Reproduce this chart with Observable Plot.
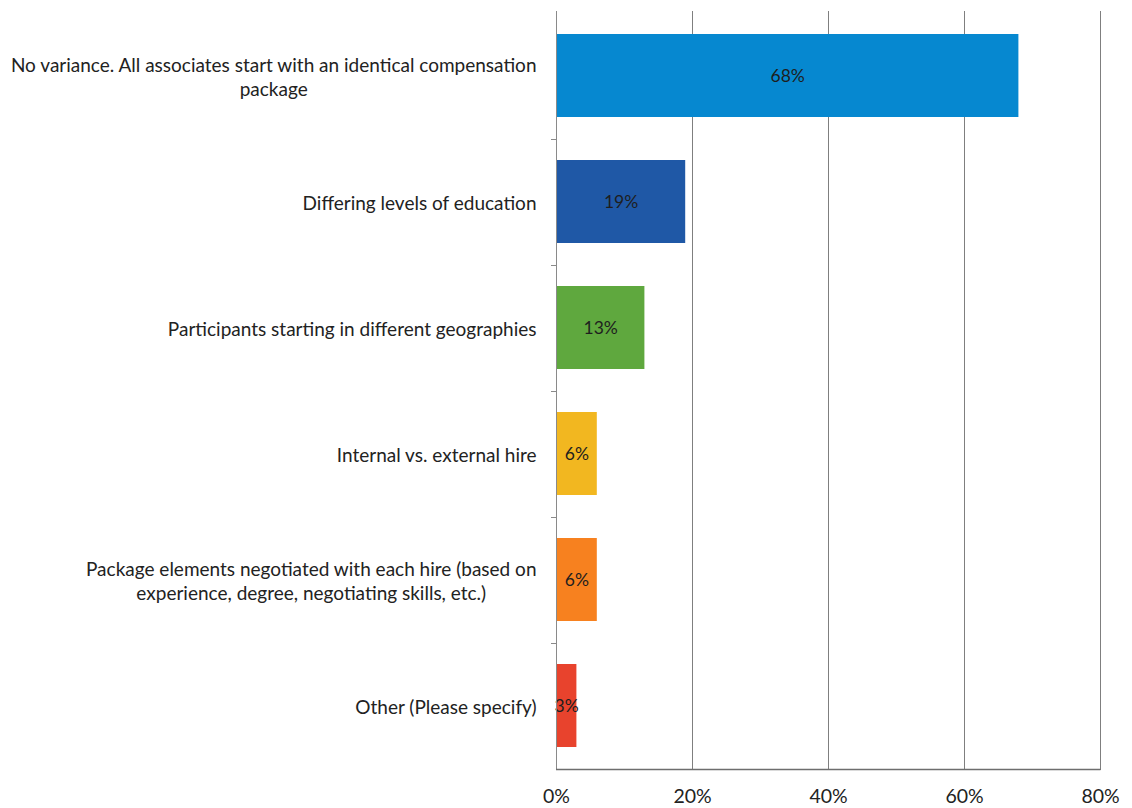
<!DOCTYPE html>
<html>
<head>
<meta charset="utf-8">
<script src="https://cdn.jsdelivr.net/npm/d3@7"></script>
<script src="https://cdn.jsdelivr.net/npm/@observablehq/plot@0.6"></script>
<style>
  html, body { margin: 0; padding: 0; background: #fff; }
  #chart { width: 1132px; height: 808px; }
  svg { font-family: Lato, "Open Sans", sans-serif; }
</style>
</head>
<body>
<div id="chart"></div>
<script>
const categories = [
  "No variance. All associates start with an identical compensation\npackage",
  "Differing levels of education",
  "Participants starting in different geographies",
  "Internal vs. external hire",
  "Package elements negotiated with each hire (based on\nexperience, degree, negotiating skills, etc.)",
  "Other (Please specify)"
];
const values = [68, 19, 13, 6, 6, 3];
const colors = ["#0688d0", "#1f58a6", "#5fa83e", "#f2b720", "#f7811f", "#e8432d"];
const xTicks = [0, 20, 40, 60, 80];

const data = categories.map((c, i) => ({category: c, value: values[i], color: colors[i]}));

// left axis line with small separator ticks between categories
function axisLines(index, scales, values, dim) {
  const ns = "http://www.w3.org/2000/svg";
  const g = document.createElementNS(ns, "g");
  const line = (x1, y1, x2, y2, stroke, w) => {
    const l = document.createElementNS(ns, "path");
    l.setAttribute("d", `M${x1},${y1}L${x2},${y2}`);
    l.setAttribute("stroke", stroke);
    l.setAttribute("stroke-width", w);
    l.setAttribute("fill", "none");
    g.appendChild(l);
  };
  const x0 = scales.x(xTicks[0]);
  const yb = dim.height - dim.marginBottom, yt = dim.marginTop;
  line(x0 + 0.5, yt, x0 + 0.5, yb, "#8a8a8a", 1);
  const y = scales.y;
  const step = y.step ? y.step() : (y.bandwidth() / (1 - 0.34));
  categories.slice(1).forEach(c => {
    const yy = Math.round(y(c) - (step - y.bandwidth()) / 2) + 0.5;
    line(x0 - 5, yy, x0, yy, "#8a8a8a", 1);
  });
  return g;
}

const chart = Plot.plot({
  width: 1132,
  height: 808,
  marginLeft: 556,
  marginRight: 32,
  marginTop: 11,
  marginBottom: 38,
  style: {fontFamily: "Lato, 'Open Sans', sans-serif", fontSize: "19px", color: "#222", background: "#fff", overflow: "visible"},
  x: {domain: [0, 80], ticks: xTicks, tickFormat: d => d + "%", label: null},
  y: {domain: categories, paddingInner: 0.34, paddingOuter: 0.17, label: null},
  marks: [
    Plot.gridX(xTicks.filter(d => d > 0), {stroke: "#7f7f7f", strokeOpacity: 1, strokeWidth: 1}),
    Plot.barX(data, {x: "value", y: "category", fill: "color"}),
    Plot.text(data, {x: d => d.value / 2, y: "category", text: d => d.value + "%", fill: "#1e1e1e", fontSize: 17.5}),
    axisLines,
    Plot.axisX({ticks: xTicks, tickFormat: d => d + "%", tickSize: 0, tickPadding: 19, fontSize: 19.5, label: null}),
    Plot.axisY({tickSize: 0, tickPadding: 20, label: null, lineHeight: 1.27, fontSize: 19})
  ]
});
document.getElementById("chart").appendChild(chart);

// Bottom border of the plot area, drawn on top of everything from the chart's own x scale
{
  const xs = chart.scale("x");
  const x0 = xs.apply(xTicks[0]), x1 = xs.apply(xTicks[xTicks.length - 1]);
  const yb = 808 - 38;
  const ns = "http://www.w3.org/2000/svg";
  const l = document.createElementNS(ns, "line");
  l.setAttribute("x1", x0);
  l.setAttribute("x2", x1 + 0.5);
  l.setAttribute("y1", yb - 0.5);
  l.setAttribute("y2", yb - 0.5);
  l.setAttribute("stroke", "#6e6e6e");
  l.setAttribute("stroke-width", 1.6);
  chart.appendChild(l);
}

// Center the lines of wrapped category labels on each other (Excel style), keeping them right aligned
chart.querySelectorAll("[aria-label='y-axis tick label'] text").forEach(t => {
  const spans = t.querySelectorAll("tspan");
  if (spans.length > 1) {
    const w = t.getBBox().width;
    t.setAttribute("text-anchor", "middle");
    spans.forEach(s => s.setAttribute("x", (-w / 2).toString()));
  }
});
</script>
</body>
</html>
